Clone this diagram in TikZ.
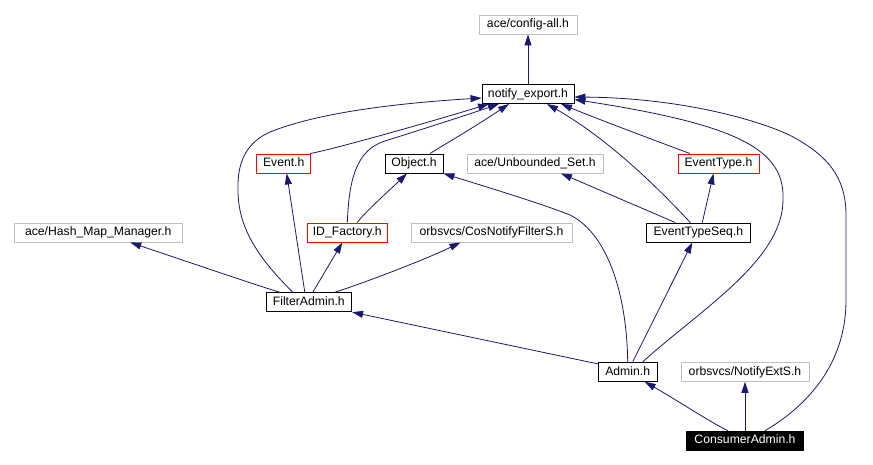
\documentclass[tikz,border=0pt]{standalone}
\usepackage{fontspec}
\setmainfont{Liberation Sans}
\usetikzlibrary{arrows.meta}
\definecolor{edgeblue}{RGB}{25,25,112}
\definecolor{extgrey}{RGB}{191,191,191}
\begin{document}
\begin{tikzpicture}[x=1pt,y=-1pt,
  box/.style={draw, line width=0.9pt, inner sep=0pt, minimum height=19pt,
    text height=9pt, text depth=2.6pt, font=\fontsize{12.2}{14}\selectfont, anchor=center},
  docbox/.style={box, draw=black},
  extbox/.style={box, draw=extgrey},
  undocbox/.style={box, draw=red},
  mainbox/.style={box, draw=black, fill=black, text=white},
  edge/.style={draw=edgeblue, line width=0.8pt, -{Triangle[length=11pt,width=7pt]}}]
\useasboundingbox (0,0) rectangle (873,465);
% nodes
\node[extbox, minimum width=98pt] (cfg) at (528,24.5) {ace/config-all.h};
\node[docbox, minimum width=92pt] (ne) at (528,94) {notify\_export.h};
\node[undocbox, minimum width=54pt] (ev) at (283.7,163.5) {Event.h};
\node[docbox, minimum width=58pt] (obj) at (414,163.5) {Object.h};
\node[extbox, minimum width=136pt] (us) at (535,163.5) {ace/Unbounded\_Set.h};
\node[undocbox, minimum width=81pt] (et) at (718.5,163.5) {EventType.h};
\node[extbox, minimum width=168.5pt] (hm) at (98.3,232.5) {ace/Hash\_Map\_Manager.h};
\node[undocbox, minimum width=80pt] (idf) at (347.3,232.5) {ID\_Factory.h};
\node[extbox, minimum width=161pt] (cnf) at (491.5,232.5) {orbsvcs/CosNotifyFilterS.h};
\node[docbox, minimum width=103.3pt] (ets) at (698.3,232.5) {EventTypeSeq.h};
\node[docbox, minimum width=85.7pt] (fa) at (308.8,302.2) {FilterAdmin.h};
\node[docbox, minimum width=59pt] (adm) at (627.7,371.8) {Admin.h};
\node[extbox, minimum width=128pt] (nes) at (745,371.8) {orbsvcs/NotifyExtS.h};
\node[mainbox, minimum width=117.7pt] (ca) at (745,440.7) {ConsumerAdmin.h};
% edges
\draw[edge] (ne.north) -- (cfg.south);
\draw[edge] ([xshift=-1pt]ev.north east) .. controls (330,150) and (420,125) .. ([xshift=-39pt]ne.south);
\draw[edge] ([xshift=16pt]obj.north) .. controls (440,147) and (470,130) .. ([xshift=-19pt]ne.south);
\draw[edge] (idf.north) .. controls (349,180) and (356,150) .. (385,141)
  .. controls (420,130) and (470,114) .. ([xshift=-29pt]ne.south);
\draw[edge] ([xshift=10pt]idf.north) .. controls (362,215) and (395,185) .. ([xshift=-7pt]obj.south);
\draw[edge] ([xshift=-16pt]fa.north) .. controls (255,255) and (238,225) .. (238,190)
  .. controls (237,160) and (248,142) .. (270,132)
  .. controls (320,112) and (400,103) .. ([yshift=-4pt]ne.west);
\draw[edge] ([xshift=-4pt]fa.north) -- ([xshift=3pt]ev.south);
\draw[edge] ([xshift=4pt]fa.north) -- ([xshift=-5pt]idf.south);
\draw[edge] ([xshift=-29pt]fa.north) .. controls (265,288) and (200,266) .. ([xshift=32pt]hm.south);
\draw[edge] ([xshift=26pt]fa.north) .. controls (355,286) and (420,262) .. ([xshift=-31pt]cnf.south);
\draw[edge] ([xshift=-8pt]ets.north) .. controls (660,190) and (610,140) .. ([xshift=19pt]ne.south);
\draw[edge] ([xshift=-28.5pt]et.north) .. controls (675,148) and (600,120) .. ([xshift=33pt]ne.south);
\draw[edge] ([xshift=-23pt]ets.north) -- ([xshift=26pt]us.south);
\draw[edge] ([xshift=4pt]ets.north) -- ([xshift=-5pt]et.south);
\draw[edge] ([yshift=-2pt]adm.north west) -- (fa.south east);
\draw[edge] (adm.north) .. controls (627,300) and (610,235) .. (570,215)
  .. controls (540,203) and (480,185) .. (obj.south east);
\draw[edge] ([xshift=5pt]adm.north) -- ([xshift=-6pt]ets.south);
\draw[edge] ([xshift=15pt]adm.north) .. controls (700,310) and (783,260) .. (783,200)
  .. controls (785,150) and (740,125) .. ([yshift=-5.5pt]ne.east);
\draw[edge] ([xshift=20pt]ca.north) .. controls (800,410) and (846,370) .. (846,300)
  -- (846,215) .. controls (846,175) and (825,155) .. (795,138)
  .. controls (770,124) and (690,98) .. ([yshift=-3pt]ne.east);
\draw[edge] ([xshift=-17pt]ca.north) .. controls (710,422) and (680,402) .. ([xshift=17pt]adm.south);
\draw[edge] (ca.north) -- (nes.south);
\end{tikzpicture}
\end{document}
